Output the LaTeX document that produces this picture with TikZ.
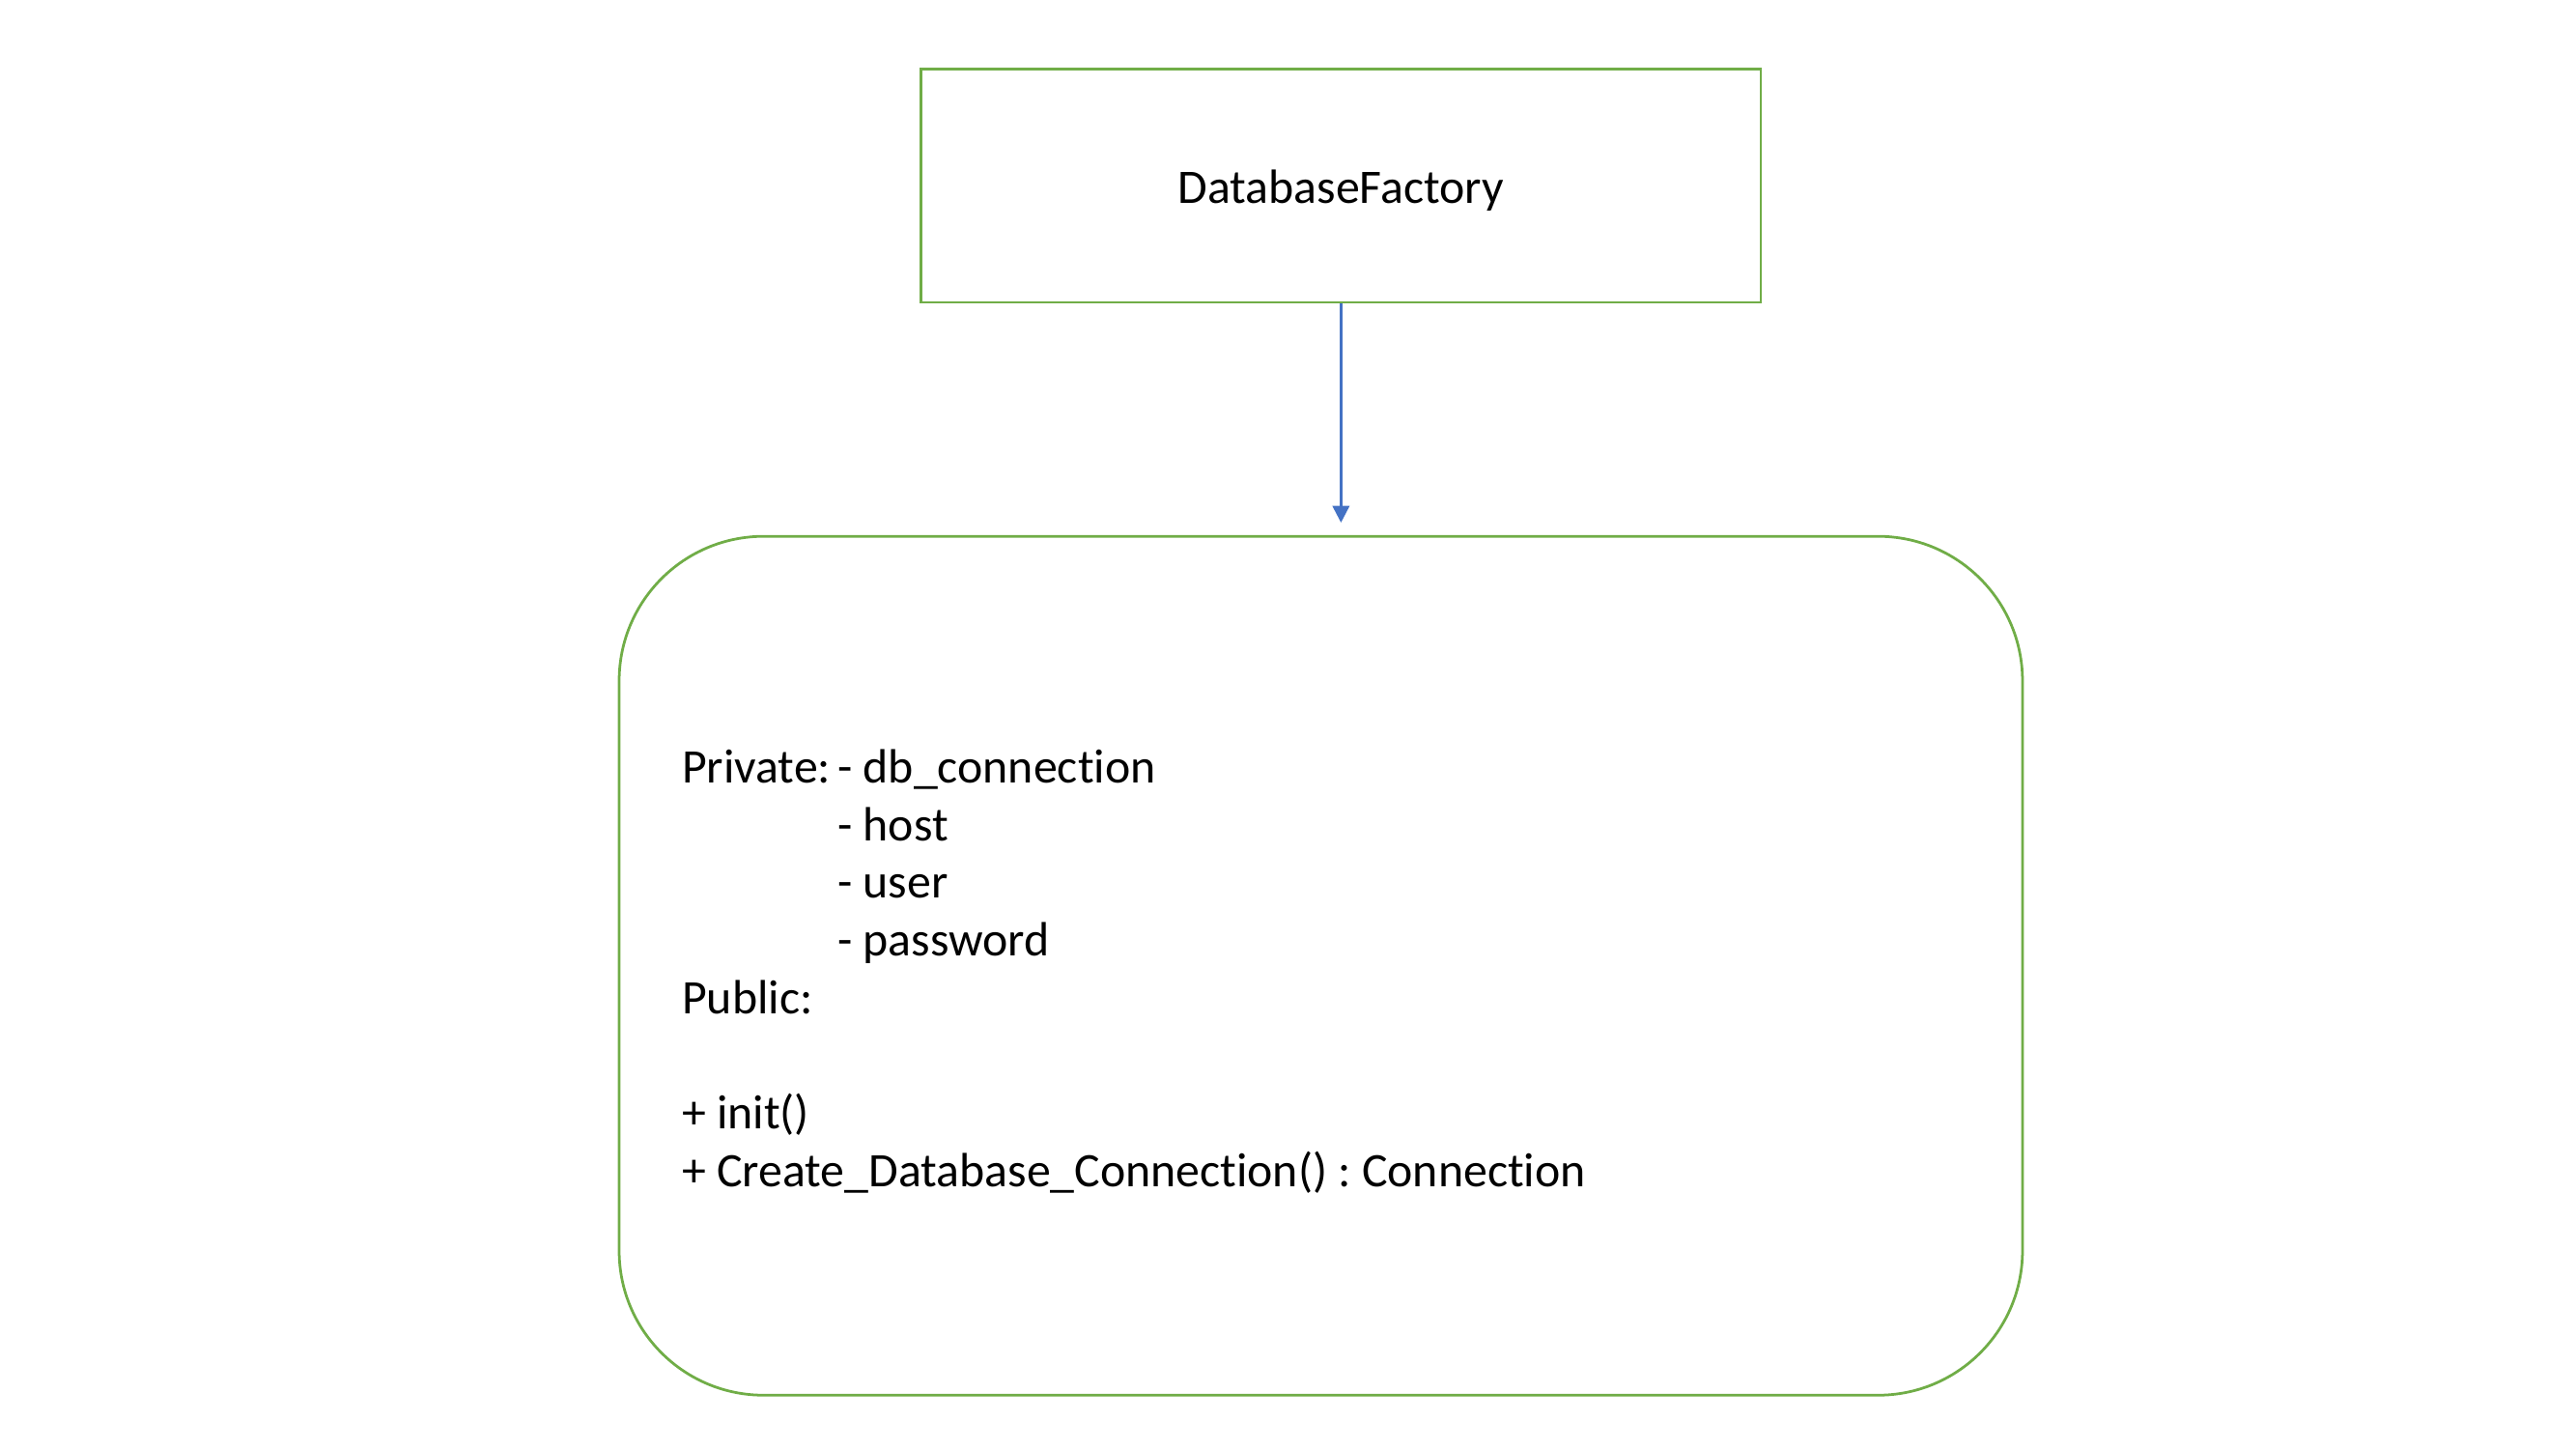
\documentclass[tikz,border=0pt]{standalone}
\usepackage{fontspec}
\setmainfont{Carlito}[Ligatures={NoCommon}]
\usetikzlibrary{arrows.meta}
\definecolor{boxgreen}{RGB}{112,173,71}
\definecolor{linkblue}{RGB}{68,114,196}
\newcommand{\tabto}[1]{\makebox[2.045cm][l]{#1}}
\frenchspacing
\begin{document}
\begin{tikzpicture} [
                font=\fontsize{18}{21.6}\selectfont,
                factory/.style = {draw=boxgreen, line width=1pt, minimum width=11.04cm, minimum height=3.07cm},
                classbox/.style = {draw=boxgreen, line width=1pt, rounded corners=1.9cm, minimum width=18.45cm, minimum height=11.29cm},
                members/.style = {align=left, anchor=west, inner sep=0pt},
                link/.style = {draw=linkblue, line width=0.9pt, -{Triangle[length=0.22cm,width=0.22cm]}},
            ]
            \useasboundingbox (0,0) rectangle (33.867,-19.05);
            \node[factory] (dbfactory) at (17.63,-2.44) {\raisebox{-0.07cm}[\height][\depth]{DatabaseFactory}};
            \node[classbox] (dbclass) at (17.365,-12.695) {};
            \node[members] (fields) at (8.96,-12.77) {%
                \tabto{Private:}- db\_connection\\
                \tabto{}- host\\
                \tabto{}- user\\
                \tabto{}- password\\
                Public:\\
                \mbox{}\\
                + init()\\
                + Create\_Database\_Connection() : Connection};
            \coordinate (tip) at (17.63,-6.87);
            \path[link] (dbfactory.south) -- (tip);
        \end{tikzpicture}
\end{document}
